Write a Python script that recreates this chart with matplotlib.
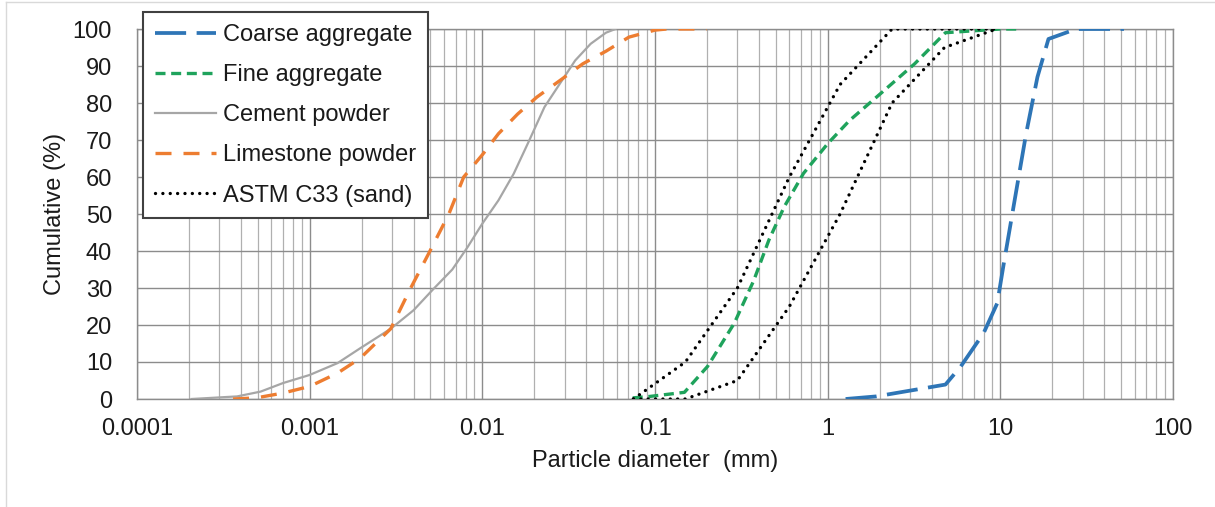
import numpy as np
import matplotlib
matplotlib.use('Agg')
from matplotlib import pyplot as plt
from matplotlib.ticker import FixedLocator, NullFormatter, LogLocator
from matplotlib.lines import Line2D

plt.rcParams['font.family'] = ['Liberation Sans', 'DejaVu Sans']

# cumulative passing (%) vs particle diameter (mm)
coarse_d = [1.27, 1.91, 4.81, 5.9, 8.0, 9.6, 10.4, 12.1, 14.1, 16.4, 19.0, 27.5, 52.0]
coarse_p = [0, 0.7, 3.9, 8.8, 17.8, 25.9, 35.8, 53.7, 71.7, 87.0, 97.3, 100, 100]

fine_d = [0.0743, 0.0936, 0.148, 0.2015, 0.288, 0.373, 0.457, 0.561, 0.725, 1.0, 1.34, 2.02, 3.19, 4.81, 10.0, 12.7]
fine_p = [0.3, 0.7, 1.8, 8.8, 20.5, 32, 43, 52, 61, 69, 75.3, 82.5, 90.6, 99, 100, 100]

cement_d = [0.000207, 0.00038, 0.00052, 0.0007, 0.001, 0.00145, 0.00196, 0.00295, 0.004, 0.0052,
            0.0067, 0.0082, 0.01, 0.0124, 0.0152, 0.0187, 0.0229, 0.0281, 0.0345, 0.0424, 0.052, 0.059]
cement_p = [0, 0.7, 2.0, 4.3, 6.5, 9.7, 13.7, 19.0, 24.0, 29.7,
            35.0, 41.0, 47.4, 53.7, 60.9, 69.9, 78.9, 85.2, 91.5, 96.0, 99.0, 100]

lime_d = [0.00036, 0.00049, 0.0007, 0.001, 0.00145, 0.00196, 0.00295, 0.0038, 0.0049, 0.0064,
          0.0078, 0.01, 0.0124, 0.016, 0.0207, 0.028, 0.0382, 0.052, 0.0706, 0.1, 0.117, 0.2]
lime_p = [0, 0.3, 1.6, 3.4, 7.0, 11.0, 19.0, 29.5, 39.4, 50.0,
          60.0, 66.0, 71.7, 77.0, 81.6, 86.0, 90.6, 94.0, 97.8, 99.7, 100, 100]

astm_d = [0.075, 0.15, 0.3, 0.6, 1.18, 2.36, 4.75, 9.5]
astm_lower = [0, 0, 5, 25, 50, 80, 95, 100]
astm_upper = [0, 10, 30, 60, 85, 100, 100, 100]

x_ticks = [0.0001, 0.001, 0.01, 0.1, 1, 10, 100]
x_labels = ['0.0001', '0.001', '0.01', '0.1', '1', '10', '100']

fig = plt.figure(figsize=(12.15, 5.07), dpi=100)
ax = fig.add_axes([137 / 1215, 1 - 399 / 507, (1173 - 137) / 1215, (399 - 29) / 507])

fs = 17
dot = (0, (0.01, 2.2))
ax.plot(cement_d, cement_p, color='#A6A6A6', lw=1.6, label='Cement powder', zorder=3)
ax.plot(lime_d, lime_p, color='#ED7D31', lw=2.4, linestyle=(0, (4.8, 3.6)), label='Limestone powder', zorder=4)
ax.plot(astm_d, astm_lower, color='black', lw=2.4, linestyle=dot,
        dash_capstyle='round', label='ASTM C33 (sand)', zorder=5)
ax.plot(astm_d, astm_upper, color='black', lw=2.4, linestyle=dot,
        dash_capstyle='round', zorder=5)
ax.plot(fine_d, fine_p, color='#1FA35C', lw=2.4, linestyle=(0, (3.0, 1.7)), label='Fine aggregate', zorder=4)
ax.plot(coarse_d, coarse_p, color='#2E75B6', lw=2.7, linestyle=(0, (8.3, 2.8)), label='Coarse aggregate', zorder=4)

ax.set_xscale('log')
ax.set_xlim(1e-4, 100)
ax.set_ylim(0, 100)
ax.set_yticks(np.arange(0, 101, 10))
ax.xaxis.set_major_locator(FixedLocator(x_ticks))
ax.set_xticklabels(x_labels)
ax.xaxis.set_minor_locator(LogLocator(base=10, subs=np.arange(2, 10)))
ax.xaxis.set_minor_formatter(NullFormatter())
ax.tick_params(axis='both', which='both', length=0, labelsize=fs, colors='#1a1a1a')
ax.tick_params(axis='y', pad=18)
ax.tick_params(axis='x', pad=14)
ax.grid(True, which='major', color='#8C8C8C', lw=1.0)
ax.grid(True, which='minor', axis='x', color='#B0B0B0', lw=0.9)
ax.set_axisbelow(True)
for s in ax.spines.values():
    s.set_color('#8C8C8C')
    s.set_linewidth(1.0)

ax.set_xlabel('Particle diameter  (mm)', fontsize=fs, color='#1a1a1a', labelpad=7)
ax.set_ylabel('Cumulative (%)', fontsize=fs, color='#1a1a1a', labelpad=5)

handles = [
    Line2D([], [], color='#2E75B6', lw=2.7, linestyle=(0, (8.3, 2.8))),
    Line2D([], [], color='#1FA35C', lw=2.4, linestyle=(0, (3.0, 1.7))),
    Line2D([], [], color='#A6A6A6', lw=1.6),
    Line2D([], [], color='#ED7D31', lw=2.4, linestyle=(0, (4.8, 3.6))),
    Line2D([], [], color='black', lw=2.4, linestyle=dot, dash_capstyle='round'),
]
labels = ['Coarse aggregate', 'Fine aggregate', 'Cement powder', 'Limestone powder', 'ASTM C33 (sand)']
leg = fig.legend(handles, labels, loc='upper left', bbox_to_anchor=(143 / 1215, 1 - 12 / 507),
                 fontsize=fs, frameon=True, fancybox=False, framealpha=1, edgecolor='#404040',
                 handlelength=2.6, handletextpad=0.3, labelspacing=0.77, borderpad=0.5,
                 borderaxespad=0)
leg.get_frame().set_linewidth(1.5)
for t in leg.get_texts():
    t.set_color('#1a1a1a')

# light chart-area border
fig.add_artist(Line2D([6 / 1215, 6 / 1215], [0, 1 - 2 / 507], color='#D9D9D9', lw=1, transform=fig.transFigure))
fig.add_artist(Line2D([6 / 1215, 1], [1 - 2 / 507, 1 - 2 / 507], color='#D9D9D9', lw=1, transform=fig.transFigure))

fig.savefig('out.png', dpi=100)
